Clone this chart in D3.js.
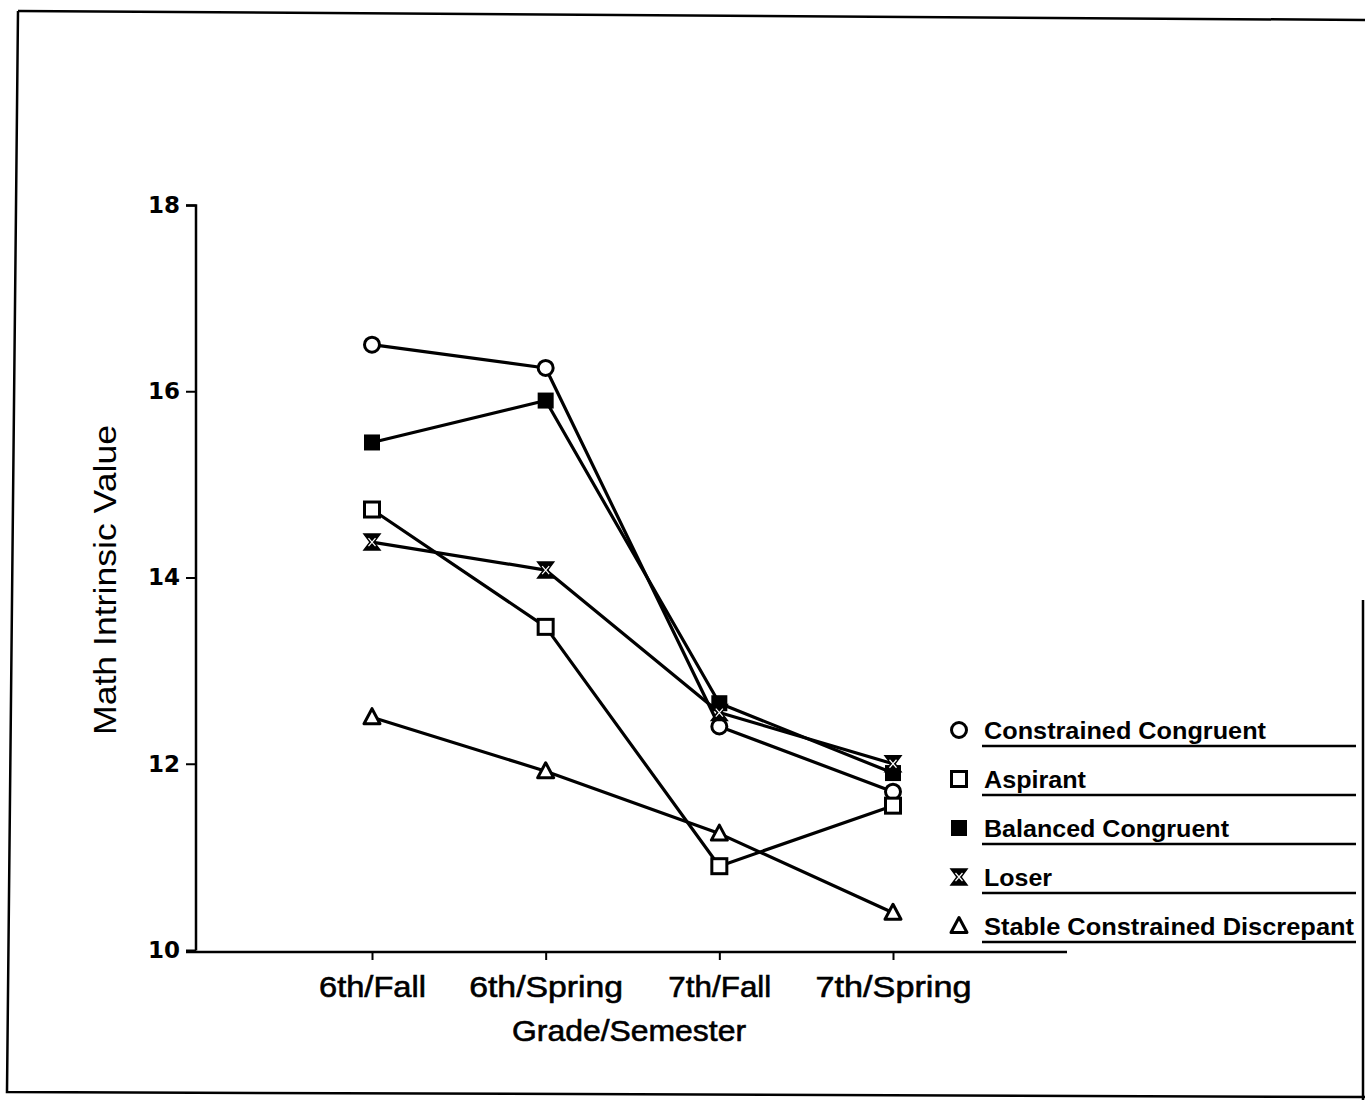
<!DOCTYPE html>
<html><head><meta charset="utf-8">
<script src="https://cdn.jsdelivr.net/npm/d3@7"></script>
<style>
html,body{margin:0;padding:0;background:#fff;}
svg{display:block;}
text{font-family:"Liberation Sans","Noto Sans",sans-serif;fill:#000;}
</style></head>
<body>
<svg id="chart" width="1365" height="1100"></svg>
<script>
const categories = ["6th/Fall","6th/Spring","7th/Fall","7th/Spring"];
const seriesNames = ["Constrained Congruent","Aspirant","Balanced Congruent","Loser","Stable Constrained Discrepant"];
const seriesSymbols = ["circle","square","filledSquare","hourglass","triangle"];
const constrainedCongruent = [16.5, 16.25, 12.4, 11.7];
const aspirant = [14.73, 13.47, 10.9, 11.55];
const balancedCongruent = [15.45, 15.9, 12.65, 11.9];
const loser = [14.38, 14.08, 12.55, 12.0];
const stableConstrainedDiscrepant = [12.5, 11.92, 11.25, 10.4];
const yTicks = [10, 12, 14, 16, 18];
const yTitle = "Math Intrinsic Value";
const xTitle = "Grade/Semester";

const seriesValues = [constrainedCongruent, aspirant, balancedCongruent, loser, stableConstrainedDiscrepant];

const svg = d3.select("#chart");

// page frame (scanned border)
const frame = svg.append("g").attr("fill","none").attr("stroke","#000").attr("stroke-width",2.5);
frame.append("path").attr("d","M18,11 L1365,20");
frame.append("path").attr("d","M18,11 L7,1092 L1365,1097");
frame.append("path").attr("d","M1363,600 L1363,1100");

const x = d3.scalePoint().domain(categories).range([372, 893]);
const y = d3.scaleLinear().domain([10, 18]).range([950, 205]);

// y axis
const yAxis = d3.axisLeft(y).tickValues(yTicks).tickSize(10).tickPadding(6).tickFormat(d3.format("d"));
const gy = svg.append("g").attr("transform","translate(196,0)").call(yAxis);
gy.select(".domain").attr("stroke","#000").attr("stroke-width",2.5).attr("d","M-10,205.5H0V950.5");
gy.selectAll(".tick line").attr("stroke","#000").attr("stroke-width",2);
gy.selectAll(".tick text").attr("font-size",23).attr("font-weight","bold")
  .style("font-family","'DejaVu Sans',sans-serif").attr("fill","#000");

// x axis
const xTickWidths = [107, 154, 103, 156];
const xAxis = d3.axisBottom(x).tickSize(8).tickPadding(16);
const gx = svg.append("g").attr("transform","translate(0,952)").call(xAxis);
gx.select(".domain").attr("stroke","#000").attr("stroke-width",2.5).attr("d","M186,0H1067");
gx.selectAll(".tick line").attr("stroke","#000").attr("stroke-width",2);
gx.selectAll(".tick text").attr("font-size",30).attr("fill","#000")
  .style("font-family","'Liberation Sans Narrow','Liberation Sans',sans-serif")
  .attr("stroke","#000").attr("stroke-width",0.6)
  .attr("textLength",(d,i)=>xTickWidths[i]).attr("lengthAdjust","spacingAndGlyphs")
  .attr("dy","0.71em");

svg.append("text").attr("x",629).attr("y",1041).attr("text-anchor","middle")
  .attr("font-size",30).style("font-family","'Liberation Sans Narrow','Liberation Sans',sans-serif")
  .attr("stroke","#000").attr("stroke-width",0.6)
  .attr("textLength",234).attr("lengthAdjust","spacingAndGlyphs")
  .text(xTitle);

svg.append("text").attr("transform","translate(116,580) rotate(-90)").attr("text-anchor","middle")
  .attr("font-size",32).attr("textLength",310).attr("lengthAdjust","spacingAndGlyphs").text(yTitle);

// symbols
function drawSymbol(g, type, cx, cy) {
  const s = g.append("g").attr("transform",`translate(${cx},${cy})`);
  if (type === "circle") {
    s.append("circle").attr("r",7.5).attr("fill","#fff").attr("stroke","#000").attr("stroke-width",3);
  } else if (type === "square") {
    s.append("rect").attr("x",-7.5).attr("y",-7.5).attr("width",15).attr("height",15)
      .attr("fill","#fff").attr("stroke","#000").attr("stroke-width",3);
  } else if (type === "filledSquare") {
    s.append("rect").attr("x",-8).attr("y",-8).attr("width",16).attr("height",16).attr("fill","#000");
  } else if (type === "hourglass") {
    s.append("path").attr("d","M-8,-8 H8 L2,0 L8,8 H-8 L-2,0 Z").attr("fill","#000").attr("stroke","#000").attr("stroke-width",1.5);
    s.append("path").attr("d","M-3.5,-4 L3.5,4 M3.5,-4 L-3.5,4").attr("stroke","#fff").attr("stroke-width",1.2);
  } else if (type === "triangle") {
    s.append("path").attr("d","M0,-8.5 L8,6.5 H-8 Z").attr("fill","#fff").attr("stroke","#000").attr("stroke-width",3).attr("stroke-linejoin","round");
  }
}

const line = d3.line().x((d,i)=>x(categories[i])).y(d=>y(d));
const plot = svg.append("g");
seriesValues.forEach((vals, si) => {
  plot.append("path").datum(vals).attr("d", line).attr("fill","none")
    .attr("stroke","#000").attr("stroke-width",3.2).attr("stroke-linejoin","round");
});
seriesValues.forEach((vals, si) => {
  vals.forEach((v,i) => drawSymbol(plot, seriesSymbols[si], x(categories[i]), y(v)));
});

// legend
const legendY = d3.scalePoint().domain(seriesNames).range([730, 926]);
const legendWidths = [282, 102, 245, 68, 370];
const lg = svg.append("g");
seriesNames.forEach((name, i) => {
  const ly = legendY(name);
  drawSymbol(lg, seriesSymbols[i], 959, ly);
  lg.append("text").attr("x",984).attr("y",ly+9).attr("font-size",24).attr("font-weight","bold")
    .style("font-family","'Liberation Sans','DejaVu Sans',sans-serif")
    .attr("textLength",legendWidths[i]).attr("lengthAdjust","spacingAndGlyphs").text(name);
  lg.append("line").attr("x1",982).attr("x2",1356).attr("y1",ly+16).attr("y2",ly+16)
    .attr("stroke","#000").attr("stroke-width",2.5);
});
</script>
</body></html>
